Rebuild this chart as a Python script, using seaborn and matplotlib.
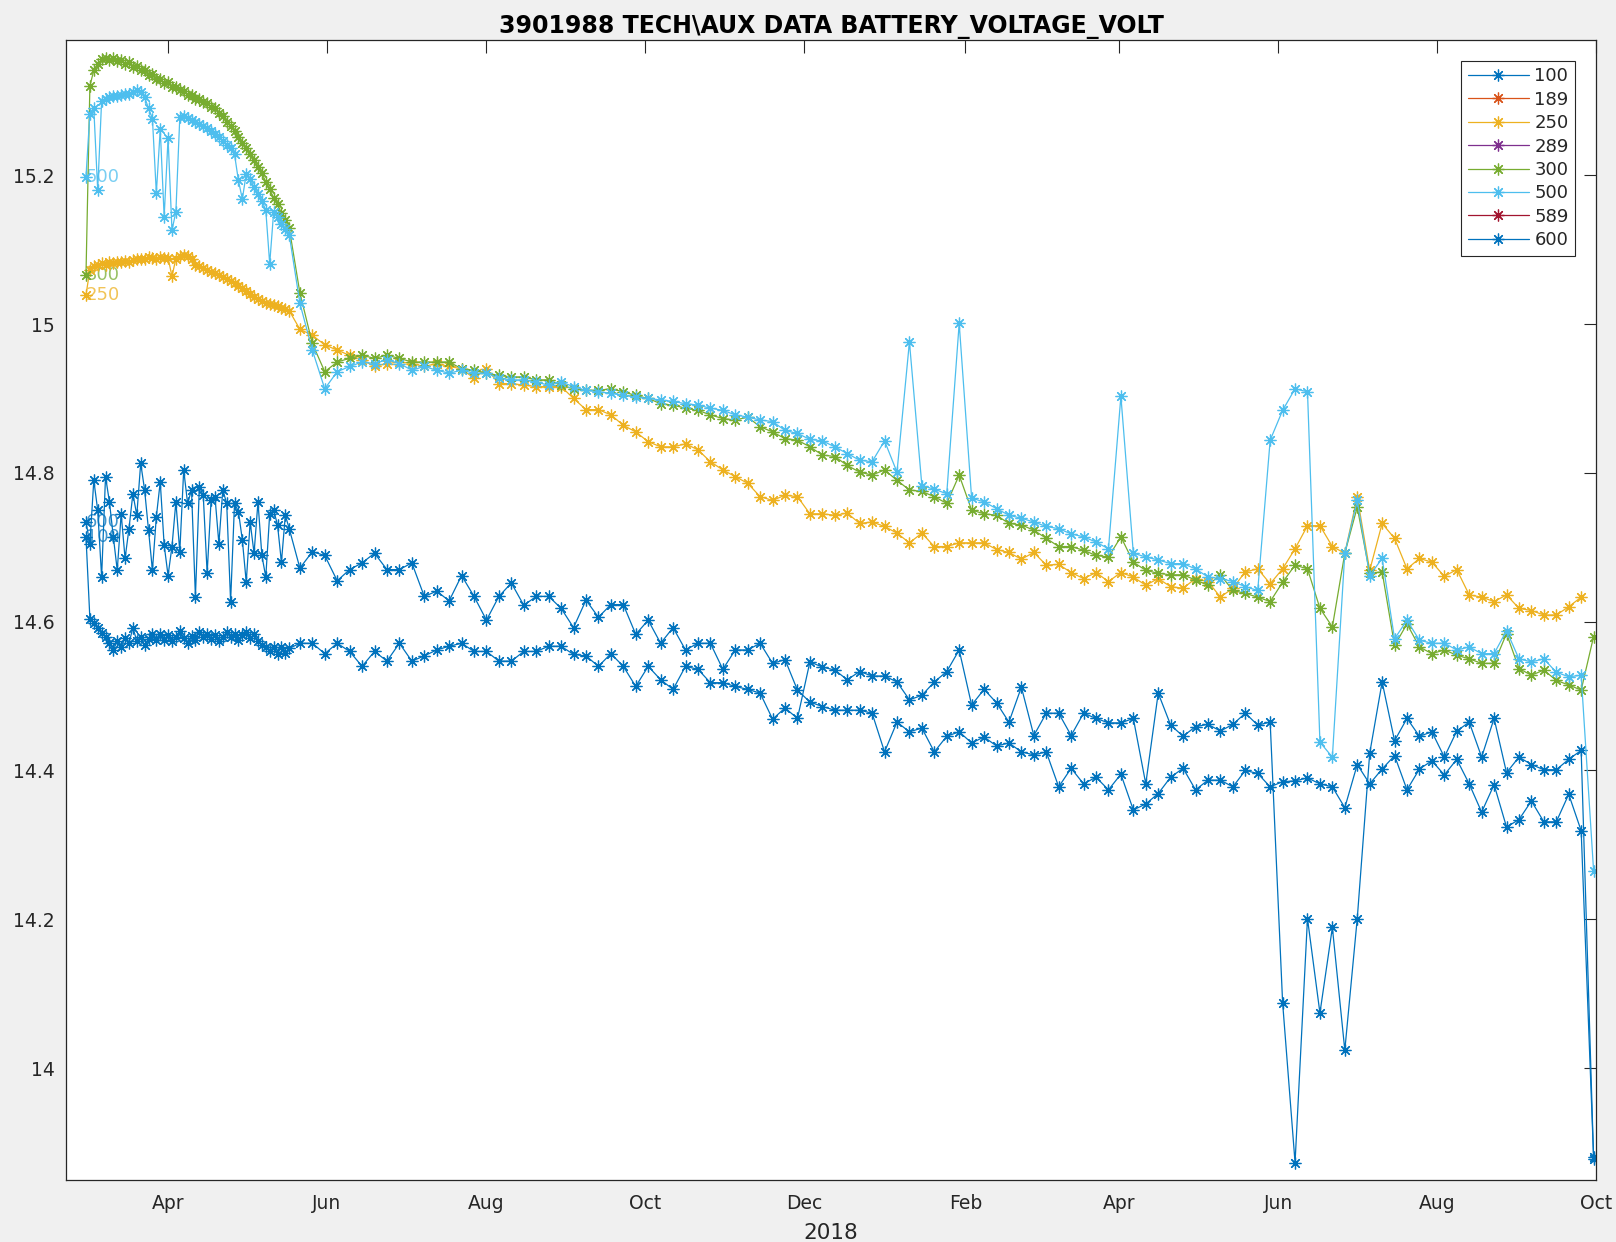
import numpy as np
import pandas as pd
import matplotlib
matplotlib.use("Agg")
import matplotlib.pyplot as plt
from matplotlib.lines import Line2D
import seaborn as sns

sns.set_style("white")
plt.rcParams['font.family'] = ['DejaVu Sans']

# ---------------- data ----------------
series_names = ["100", "189", "250", "289", "300", "500", "589", "600"]
series_colors = ["#0072BD", "#D95319", "#EDB120", "#7E2F8E",
                 "#77AC30", "#4DBEEE", "#A2142F", "#0072BD"]

# sampling: dense start-up cycles, then regular park/profile cycles
dense_start, dense_n, dense_step = "2018-02-28 13:00", 53, "36h"
cycle_start, cycle_n, cycle_step = "2018-05-21 15:00", 105, "114h34min"

v100_dense = [14.714, 14.604, 14.598, 14.592, 14.585, 14.580, 14.572, 14.562, 14.574, 14.566,
              14.578, 14.571, 14.592, 14.574, 14.580, 14.568, 14.577, 14.583, 14.575, 14.584,
              14.576, 14.582, 14.574, 14.580, 14.587, 14.578, 14.571, 14.581, 14.576, 14.586,
              14.580, 14.584, 14.577, 14.582, 14.574, 14.579, 14.586, 14.580, 14.584, 14.576,
              14.582, 14.586, 14.578, 14.583, 14.574, 14.569, 14.566, 14.560, 14.566, 14.557,
              14.566, 14.558, 14.564]
v100_cycle = [14.571, 14.571, 14.557, 14.571, 14.560, 14.540, 14.560, 14.547, 14.571, 14.547,
              14.554, 14.562, 14.567, 14.571, 14.560, 14.560, 14.547, 14.547, 14.560, 14.560,
              14.567, 14.567, 14.556, 14.554, 14.540, 14.557, 14.540, 14.513, 14.540, 14.522,
              14.509, 14.540, 14.536, 14.518, 14.518, 14.513, 14.509, 14.504, 14.469, 14.484,
              14.470,
              14.546, 14.539, 14.535, 14.522, 14.533, 14.527, 14.527, 14.519, 14.495, 14.501,
              14.519, 14.533, 14.562, 14.488, 14.509, 14.491, 14.465, 14.512, 14.447, 14.477,
              14.477, 14.447, 14.477, 14.470, 14.464, 14.464, 14.470, 14.382, 14.504, 14.461,
              14.446, 14.459, 14.462, 14.453, 14.462, 14.477, 14.461,
              14.465, 14.088, 13.873, 14.201, 14.074, 14.189, 14.024, 14.201, 14.423, 14.519,
              14.440, 14.470, 14.446, 14.452, 14.418, 14.453, 14.465, 14.418, 14.470, 14.397,
              14.418, 14.408, 14.401, 14.401, 14.415, 14.427, 13.878]

v600_dense = [14.734, 14.705, 14.790, 14.750, 14.660, 14.795, 14.761, 14.714, 14.669, 14.745,
              14.685, 14.725, 14.772, 14.743, 14.813, 14.777, 14.723, 14.669, 14.741, 14.788,
              14.703, 14.662, 14.701, 14.761, 14.694, 14.804, 14.759, 14.777, 14.633, 14.781,
              14.770, 14.665, 14.763, 14.768, 14.705, 14.777, 14.759, 14.627, 14.759, 14.748,
              14.710, 14.653, 14.734, 14.692, 14.761, 14.689, 14.660, 14.745, 14.750, 14.730,
              14.680, 14.743, 14.725]
v600_cycle = [14.672, 14.694, 14.689, 14.655, 14.670, 14.679, 14.692, 14.670, 14.670, 14.679,
              14.634, 14.641, 14.628, 14.662, 14.634, 14.602, 14.634, 14.652, 14.622, 14.634,
              14.634, 14.618, 14.592, 14.629, 14.606, 14.623, 14.623, 14.583, 14.602, 14.571,
              14.592, 14.562, 14.571, 14.571, 14.536, 14.562, 14.562, 14.571, 14.544, 14.549,
              14.508,
              14.492, 14.486, 14.481, 14.481, 14.481, 14.477, 14.425, 14.465, 14.452, 14.457,
              14.425, 14.446, 14.452, 14.437, 14.445, 14.433, 14.437, 14.425, 14.421, 14.425,
              14.378, 14.403, 14.382, 14.391, 14.374, 14.395, 14.347, 14.355, 14.369, 14.391,
              14.403, 14.374, 14.387, 14.387, 14.378, 14.400, 14.396,
              14.378, 14.385, 14.386, 14.390, 14.382, 14.378, 14.350, 14.408, 14.382, 14.402,
              14.420, 14.374, 14.402, 14.413, 14.394, 14.415, 14.382, 14.344, 14.381, 14.324,
              14.334, 14.359, 14.331, 14.331, 14.368, 14.319, 13.880]

v250_dense = [15.039, 15.073, 15.078, 15.080, 15.082, 15.080, 15.083, 15.082, 15.084, 15.083,
              15.085, 15.084, 15.086, 15.087, 15.088, 15.088, 15.090, 15.089, 15.088, 15.090,
              15.089, 15.089, 15.064, 15.088, 15.091, 15.093, 15.092, 15.088, 15.080, 15.078,
              15.075, 15.073, 15.070, 15.068, 15.066, 15.063, 15.060, 15.058, 15.055, 15.051,
              15.048, 15.044, 15.040, 15.037, 15.034, 15.031, 15.028, 15.027, 15.025, 15.024,
              15.022, 15.020, 15.018]
v250_cycle = [14.993, 14.985, 14.972, 14.965, 14.958, 14.952, 14.943, 14.947, 14.949, 14.947,
              14.943, 14.947, 14.943, 14.940, 14.927, 14.940, 14.920, 14.920, 14.918, 14.916,
              14.916, 14.916, 14.900, 14.885, 14.885, 14.878, 14.864, 14.855, 14.842, 14.835,
              14.835, 14.839, 14.831, 14.815, 14.804, 14.795, 14.786, 14.768, 14.763, 14.770,
              14.768, 14.745, 14.745, 14.743, 14.746, 14.732, 14.734, 14.728, 14.719, 14.706,
              14.719, 14.701, 14.701, 14.706, 14.706, 14.706, 14.697, 14.693, 14.684, 14.693,
              14.676, 14.677, 14.666, 14.658, 14.666, 14.654, 14.666, 14.660, 14.649, 14.658,
              14.647, 14.645, 14.658, 14.654, 14.633, 14.645, 14.667, 14.671,
              14.651, 14.671, 14.698, 14.729, 14.729, 14.701, 14.692, 14.768, 14.669, 14.732,
              14.712, 14.671, 14.685, 14.680, 14.661, 14.670, 14.636, 14.633, 14.627, 14.636,
              14.618, 14.615, 14.609, 14.609, 14.620, 14.633, np.nan]

v300_dense = [15.066, 15.320, 15.341, 15.349, 15.356, 15.358, 15.355, 15.358, 15.353, 15.355,
              15.350, 15.352, 15.346, 15.347, 15.341, 15.341, 15.335, 15.336, 15.330, 15.329,
              15.324, 15.325, 15.319, 15.318, 15.314, 15.313, 15.308, 15.308, 15.303, 15.302,
              15.298, 15.297, 15.292, 15.290, 15.284, 15.280, 15.272, 15.266, 15.259, 15.252,
              15.244, 15.237, 15.228, 15.221, 15.211, 15.203, 15.191, 15.181, 15.170, 15.161,
              15.149, 15.140, 15.129]
v300_cycle = [15.042, 14.974, 14.936, 14.949, 14.954, 14.958, 14.954, 14.958, 14.954, 14.949,
              14.949, 14.949, 14.949, 14.940, 14.938, 14.934, 14.931, 14.929, 14.929, 14.925,
              14.925, 14.918, 14.913, 14.911, 14.911, 14.913, 14.909, 14.904, 14.900, 14.893,
              14.891, 14.887, 14.884, 14.878, 14.873, 14.871, 14.875, 14.862, 14.855, 14.846,
              14.844, 14.835, 14.824, 14.822, 14.810, 14.801, 14.797, 14.804, 14.790, 14.777,
              14.775, 14.768, 14.759, 14.797, 14.750, 14.745, 14.743, 14.732, 14.730, 14.723,
              14.712, 14.701, 14.701, 14.696, 14.689, 14.687, 14.714, 14.680, 14.669, 14.665,
              14.663, 14.663, 14.656, 14.649, 14.663, 14.642, 14.638, 14.633,
              14.627, 14.653, 14.676, 14.671, 14.618, 14.593, 14.692, 14.754, 14.665, 14.667,
              14.568, 14.597, 14.566, 14.557, 14.562, 14.555, 14.550, 14.544, 14.544, 14.584,
              14.537, 14.528, 14.535, 14.521, 14.515, 14.508, 14.580]

v500_dense = [15.198, 15.283, 15.290, 15.180, 15.300, 15.302, 15.305, 15.306, 15.307, 15.308,
              15.309, 15.309, 15.312, 15.314, 15.312, 15.305, 15.290, 15.276, 15.176, 15.262,
              15.144, 15.250, 15.126, 15.151, 15.278, 15.280, 15.277, 15.274, 15.272, 15.269,
              15.266, 15.264, 15.260, 15.256, 15.251, 15.246, 15.241, 15.236, 15.228, 15.193,
              15.168, 15.202, 15.195, 15.184, 15.175, 15.166, 15.153, 15.081, 15.150, 15.144,
              15.135, 15.128, 15.120]
v500_cycle = [15.028, 14.965, 14.913, 14.936, 14.943, 14.949, 14.947, 14.952, 14.947, 14.938,
              14.943, 14.938, 14.934, 14.938, 14.934, 14.934, 14.927, 14.925, 14.925, 14.922,
              14.918, 14.922, 14.916, 14.911, 14.909, 14.907, 14.904, 14.902, 14.900, 14.898,
              14.896, 14.893, 14.891, 14.887, 14.884, 14.878, 14.875, 14.871, 14.869, 14.857,
              14.853, 14.845, 14.843, 14.835, 14.826, 14.817, 14.815, 14.843, 14.801, 14.976,
              14.783, 14.778, 14.772, 15.001, 14.766, 14.761, 14.752, 14.743, 14.739, 14.734,
              14.728, 14.725, 14.718, 14.714, 14.707, 14.698, 14.903, 14.692, 14.687, 14.683,
              14.678, 14.678, 14.671, 14.660, 14.658, 14.654, 14.647, 14.642,
              14.844, 14.884, 14.913, 14.909, 14.438, 14.418, 14.692, 14.763, 14.662, 14.685,
              14.577, 14.602, 14.575, 14.571, 14.571, 14.562, 14.566, 14.557, 14.557, 14.588,
              14.550, 14.546, 14.550, 14.532, 14.526, 14.528, 14.265]

series_values = {
    "100": v100_dense + v100_cycle,
    "250": v250_dense + v250_cycle,
    "300": v300_dense + v300_cycle,
    "500": v500_dense + v500_cycle,
    "600": v600_dense + v600_cycle,
}

y_ticks = [14.0, 14.2, 14.4, 14.6, 14.8, 15.0, 15.2]
y_tick_labels = ["14", "14.2", "14.4", "14.6", "14.8", "15", "15.2"]
x_tick_dates = ["2018-04-01", "2018-06-01", "2018-08-01", "2018-10-01", "2018-12-01",
                "2019-02-01", "2019-04-01", "2019-06-01", "2019-08-01", "2019-10-01"]
x_tick_labels = ["Apr", "Jun", "Aug", "Oct", "Dec", "Feb", "Apr", "Jun", "Aug", "Oct"]
title_text = "3901988 TECH\\AUX DATA BATTERY_VOLTAGE_VOLT"
year_label = "2018"

# ---------------- figure ----------------
dates = pd.date_range(dense_start, periods=dense_n, freq=dense_step).append(
    pd.date_range(cycle_start, periods=cycle_n, freq=cycle_step))

W, H = 1616, 1242
fig = plt.figure(figsize=(W / 100, H / 100), dpi=100, facecolor="#F0F0F0")
ax = fig.add_axes([66 / W, 1 - 1180 / H, (1596 - 66) / W, (1180 - 40) / H])
ax.set_facecolor("white")

asterisk = (8, 2, 0)
handles = []
for name, col in zip(series_names, series_colors):
    style = dict(color=col, marker=asterisk, markersize=8.5, markeredgecolor=col,
                 markerfacecolor=col, markeredgewidth=0.9, linewidth=0.9)
    if name in series_values:
        df = pd.DataFrame({"date": dates, "value": series_values[name]})
        sns.lineplot(data=df, x="date", y="value", estimator=None, sort=False,
                     legend=False, ax=ax, **style)
        ax.text(df["date"].iloc[0], df["value"].iloc[0], name, color=col, fontsize=13,
                ha="left", va="center", alpha=0.75, zorder=1.5)
    handles.append(Line2D([], [], **style))

ax.set_xlim(pd.Timestamp("2018-02-20 21:00"), pd.Timestamp("2019-10-01 00:00"))
ax.set_ylim(13.8496, 15.3818)
ax.set_yticks(y_ticks)
ax.set_yticklabels(y_tick_labels)
ax.set_xticks([pd.Timestamp(d) for d in x_tick_dates])
ax.set_xticklabels(x_tick_labels)

ax.tick_params(direction="in", length=9, width=0.8, top=True, right=True,
               labelsize=13.5, colors="#262626")
ax.tick_params(axis="x", pad=10)
ax.tick_params(axis="y", pad=8)
for sp in ax.spines.values():
    sp.set_color("#262626")
    sp.set_linewidth(0.9)

ax.set_ylabel("")
ax.set_xlabel(year_label, fontsize=15.5, color="#262626", labelpad=7)
ax.set_title(title_text, fontsize=17, fontweight="bold", color="black", pad=5)

leg = ax.legend(handles, series_names, loc="upper right",
                bbox_to_anchor=((1575 - 66) / 1530, (1180 - 61) / 1140),
                borderaxespad=0, fontsize=13, frameon=True, fancybox=False,
                edgecolor="#262626", framealpha=1, handlelength=3.4,
                handletextpad=0.3, labelspacing=0.3, borderpad=0.35, numpoints=1)
leg.get_frame().set_linewidth(0.8)
for t in leg.get_texts():
    t.set_color("#262626")

fig.savefig("out.png", dpi=100, facecolor=fig.get_facecolor())
